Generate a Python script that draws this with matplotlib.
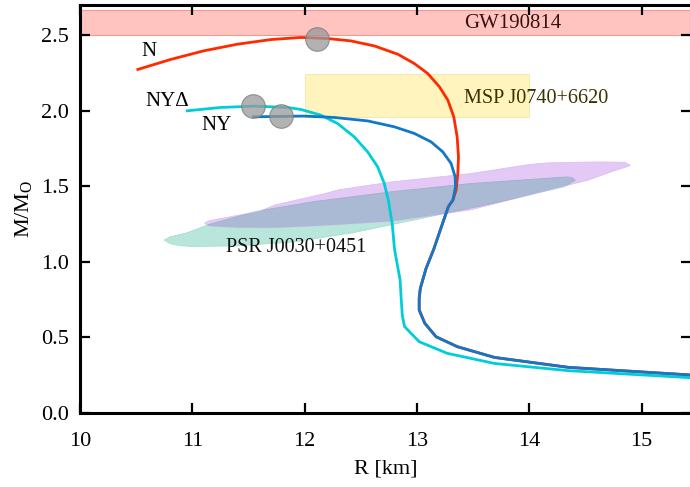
import matplotlib
matplotlib.use("Agg")
import matplotlib.pyplot as plt
from matplotlib.patches import Polygon, Rectangle

plt.rcParams['font.family'] = ['Liberation Serif', 'DejaVu Serif']
plt.rcParams['mathtext.fontset'] = 'custom'
plt.rcParams['mathtext.rm'] = 'Liberation Serif'

# ---- data ----
N_R = [10.515, 10.806, 11.10, 11.40, 11.70, 11.966, 12.204, 12.412, 12.62, 12.829, 12.977, 13.096, 13.20,
       13.275, 13.328, 13.358, 13.37, 13.364, 13.349, 13.32,
       13.28, 13.23, 13.15, 13.08, 13.03, 13.02, 13.02, 13.07, 13.17, 13.36, 13.69, 14.35, 15.45]
N_M = [2.273, 2.339, 2.396, 2.44, 2.471, 2.485, 2.478, 2.462, 2.429, 2.374, 2.312, 2.246, 2.158,
       2.07, 1.959, 1.826, 1.694, 1.584, 1.474, 1.407,
       1.365, 1.257, 1.083, 0.952, 0.822, 0.757, 0.679, 0.591, 0.502, 0.436, 0.365, 0.299, 0.248]

NY_R = [11.544, 11.794, 11.996, 12.263, 12.561, 12.798, 12.977, 13.126, 13.23, 13.304, 13.34, 13.343, 13.32,
        13.28, 13.23, 13.15, 13.08, 13.03, 13.02, 13.02, 13.07, 13.17, 13.36, 13.69, 14.35, 15.45]
NY_M = [1.959, 1.962, 1.964, 1.955, 1.932, 1.893, 1.849, 1.793, 1.727, 1.65, 1.562, 1.495, 1.407,
        1.365, 1.257, 1.083, 0.952, 0.822, 0.757, 0.679, 0.591, 0.502, 0.436, 0.365, 0.299, 0.248]

NYD_R = [10.955, 11.252, 11.55, 11.847, 11.966, 12.145, 12.293, 12.442, 12.561, 12.65, 12.709, 12.745,
         12.78, 12.80, 12.85, 12.86, 12.87, 12.89, 13.02, 13.27, 13.69, 14.35, 15.45]
NYD_M = [1.999, 2.021, 2.03, 2.021, 2.008, 1.97, 1.915, 1.826, 1.727, 1.628, 1.518, 1.407,
         1.25, 1.083, 0.878, 0.75, 0.64, 0.569, 0.469, 0.392, 0.325, 0.277, 0.23]

# maximum-mass configurations (R, M)
max_R = [12.11, 11.54, 11.794]
max_M = [2.478, 2.03, 1.964]

# observational constraints
GW_M = [2.50, 2.67]
MSP_R = [12.0, 14.0]
MSP_M = [1.955, 2.24]

NICER_A_R = [11.11, 11.15, 11.40, 11.74, 12.20, 12.78, 13.48, 14.17, 14.52, 14.75, 14.86, 14.90,
             14.85, 14.60, 14.17, 14.00, 13.48, 12.78, 12.30, 12.19, 11.74, 11.60, 11.39, 11.15]
NICER_A_M = [1.255, 1.235, 1.225, 1.224, 1.24, 1.267, 1.343, 1.474, 1.539, 1.60, 1.626, 1.637,
             1.658, 1.66, 1.654, 1.643, 1.583, 1.528, 1.475, 1.452, 1.376, 1.333, 1.304, 1.27]

NICER_B_R = [10.75, 10.80, 10.88, 11.00, 11.39, 11.90, 12.43, 13.13, 13.82, 14.31, 14.41,
             14.38, 14.34, 13.48, 12.78, 12.09, 11.57, 11.15, 10.95, 10.80]
NICER_B_M = [1.143, 1.12, 1.106, 1.10, 1.104, 1.13, 1.191, 1.30, 1.409, 1.496, 1.539,
             1.556, 1.561, 1.517, 1.463, 1.398, 1.333, 1.246, 1.19, 1.163]

xticks = [10, 11, 12, 13, 14, 15]
yticks = [0.0, 0.5, 1.0, 1.5, 2.0, 2.5]

# ---- figure ----
fig = plt.figure(figsize=(6.9, 4.87), dpi=100)
W, H = 690, 487
ax = fig.add_axes([80 / W, (H - 412.5) / H, 611 / W, 407.5 / H])
ax.set_xlim(10, 15.44)
ax.set_ylim(0, 2.70)

# GW band
ax.axhspan(GW_M[0], GW_M[1], facecolor='#ffc4bf', edgecolor='#f39a92', lw=0.8, zorder=1)
ax.text(13.42, 2.575, 'GW190814', fontsize=15, color='#3a1010', va='center', ha='left', zorder=6)

# MSP box
ax.add_patch(Rectangle((MSP_R[0], MSP_M[0]), MSP_R[1] - MSP_R[0], MSP_M[1] - MSP_M[0],
                       facecolor='#fff4be', edgecolor='#f0e6a8', lw=0.6, zorder=1))
ax.text(13.42, 2.08, 'MSP J0740+6620', fontsize=14.5, color='#3a3000', va='center', ha='left', zorder=6)

# NICER regions
pa = Polygon(list(zip(NICER_A_R, NICER_A_M)), closed=True, facecolor='#e4c8f5',
             edgecolor='#dcbff0', lw=0.6, zorder=2)
pb = Polygon(list(zip(NICER_B_R, NICER_B_M)), closed=True, facecolor='#b8e6da',
             edgecolor='#aadccf', lw=0.6, zorder=2)
ax.add_patch(pb)
ax.add_patch(pa)
pc = Polygon(list(zip(NICER_B_R, NICER_B_M)), closed=True, facecolor='#aabad4',
             edgecolor='#9fb0cc', lw=0.6, zorder=2.5)
ax.add_patch(pc)
pc.set_clip_path(pa)
ax.text(11.30, 1.09, 'PSR J0030+0451', fontsize=14.5, color='#111111', va='center', ha='left', zorder=6)

# curves
ax.plot(N_R, N_M, color='#ff2a00', lw=2.0, zorder=4, solid_joinstyle='round')
ax.plot(NYD_R, NYD_M, color='#00cdd8', lw=2.0, zorder=4, solid_joinstyle='round')
ax.plot(NY_R, NY_M, color='#1178c8', lw=2.0, zorder=4.5, solid_joinstyle='round')

ax.plot(max_R, max_M, 'o', ms=17, mfc='#999999', mec='#777777', mew=0.8, alpha=0.75, zorder=5)

ax.text(10.55, 2.39, 'N', fontsize=15, va='center', ha='left')
ax.text(10.58, 2.06, 'NY\u0394', fontsize=15, va='center', ha='left')
ax.text(11.08, 1.90, 'NY', fontsize=15, va='center', ha='left')

ax.set_xticks(xticks)
ax.set_yticks(yticks)
ax.set_xticklabels([str(t) for t in xticks])
ax.set_yticklabels(['%.1f' % t for t in yticks])
ax.tick_params(direction='in', length=7, width=1.6, labelsize=16, top=True, right=True,
               pad=14)
ax.tick_params(axis='y', pad=8)
for s in ['left', 'bottom', 'top', 'right']:
    ax.spines[s].set_linewidth(2.2)

ax.set_xlabel('R [km]', fontsize=16, labelpad=6)
ax.set_ylabel(r'M/M$_\mathrm{O}$', fontsize=16, labelpad=4)

fig.savefig('out.png', dpi=100)
